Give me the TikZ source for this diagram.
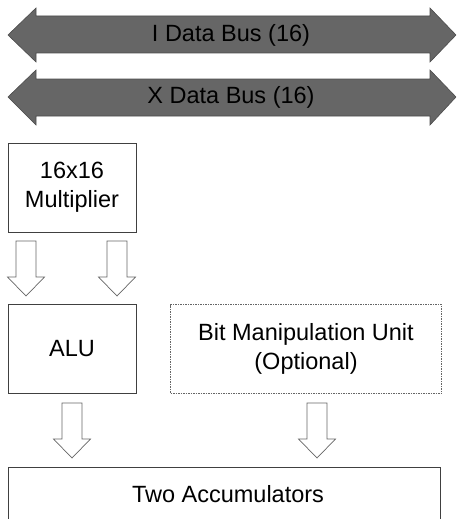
\documentclass[tikz,border=0pt]{standalone}
\usepackage{fontspec}
\setmainfont{Liberation Sans}
\begin{document}
\begin{tikzpicture}[x=1pt,y=-1pt,
  txt/.style={font=\fontsize{23.5}{29}\selectfont, text=black},
  box/.style={draw=black!75, line width=0.8pt, fill=white, align=center, inner sep=0pt, txt},
  optbox/.style={box, draw=black!60, dash pattern=on 1.5pt off 1pt},
  bus/.style={fill=black!60, draw=black!70, line width=0.6pt},
  blockarrow/.style={draw=black!60, line width=0.7pt, fill=white}]
\useasboundingbox (0,0) rectangle (456,519);
\clip (0,0) rectangle (456,519);
% buses
\draw[bus] (8,35) -- (36,8) -- (36,16) -- (430,16) -- (430,8) -- (456,35) -- (430,62) -- (430,53) -- (36,53) -- (36,62) -- cycle;
\node[txt] (ibus) at (231,35) {I Data Bus (16)};
\draw[bus] (8,97) -- (36,70) -- (36,79) -- (430,79) -- (430,70) -- (456,97) -- (430,125) -- (430,116) -- (36,116) -- (36,125) -- cycle;
\node[txt] (xbus) at (231,97) {X Data Bus (16)};
% boxes
\node[box, minimum width=128, minimum height=89] (mult) at (72,187.5) {16x16\\Multiplier};
\node[box, minimum width=128, minimum height=89] (alu) at (72,349) {ALU};
\node[optbox, minimum width=271, minimum height=89] (bmu) at (306,349) {Bit Manipulation Unit\\(Optional)};
\node[box, minimum width=432, minimum height=60, anchor=north west] (acc) at (8,467) {};
\node[txt] (acctext) at (228,494) {Two Accumulators};
% block arrows
\newcommand{\blockdown}[2]{%
  \draw[blockarrow] (#1-10,#2) -- (#1+10,#2) -- (#1+10,#2+36) -- (#1+18.5,#2+36) -- (#1,#2+55) -- (#1-18.5,#2+36) -- (#1-10,#2+36) -- cycle;}
\blockdown{26}{241}
\blockdown{117}{241}
\blockdown{72}{403}
\blockdown{317}{403}
\end{tikzpicture}
\end{document}
